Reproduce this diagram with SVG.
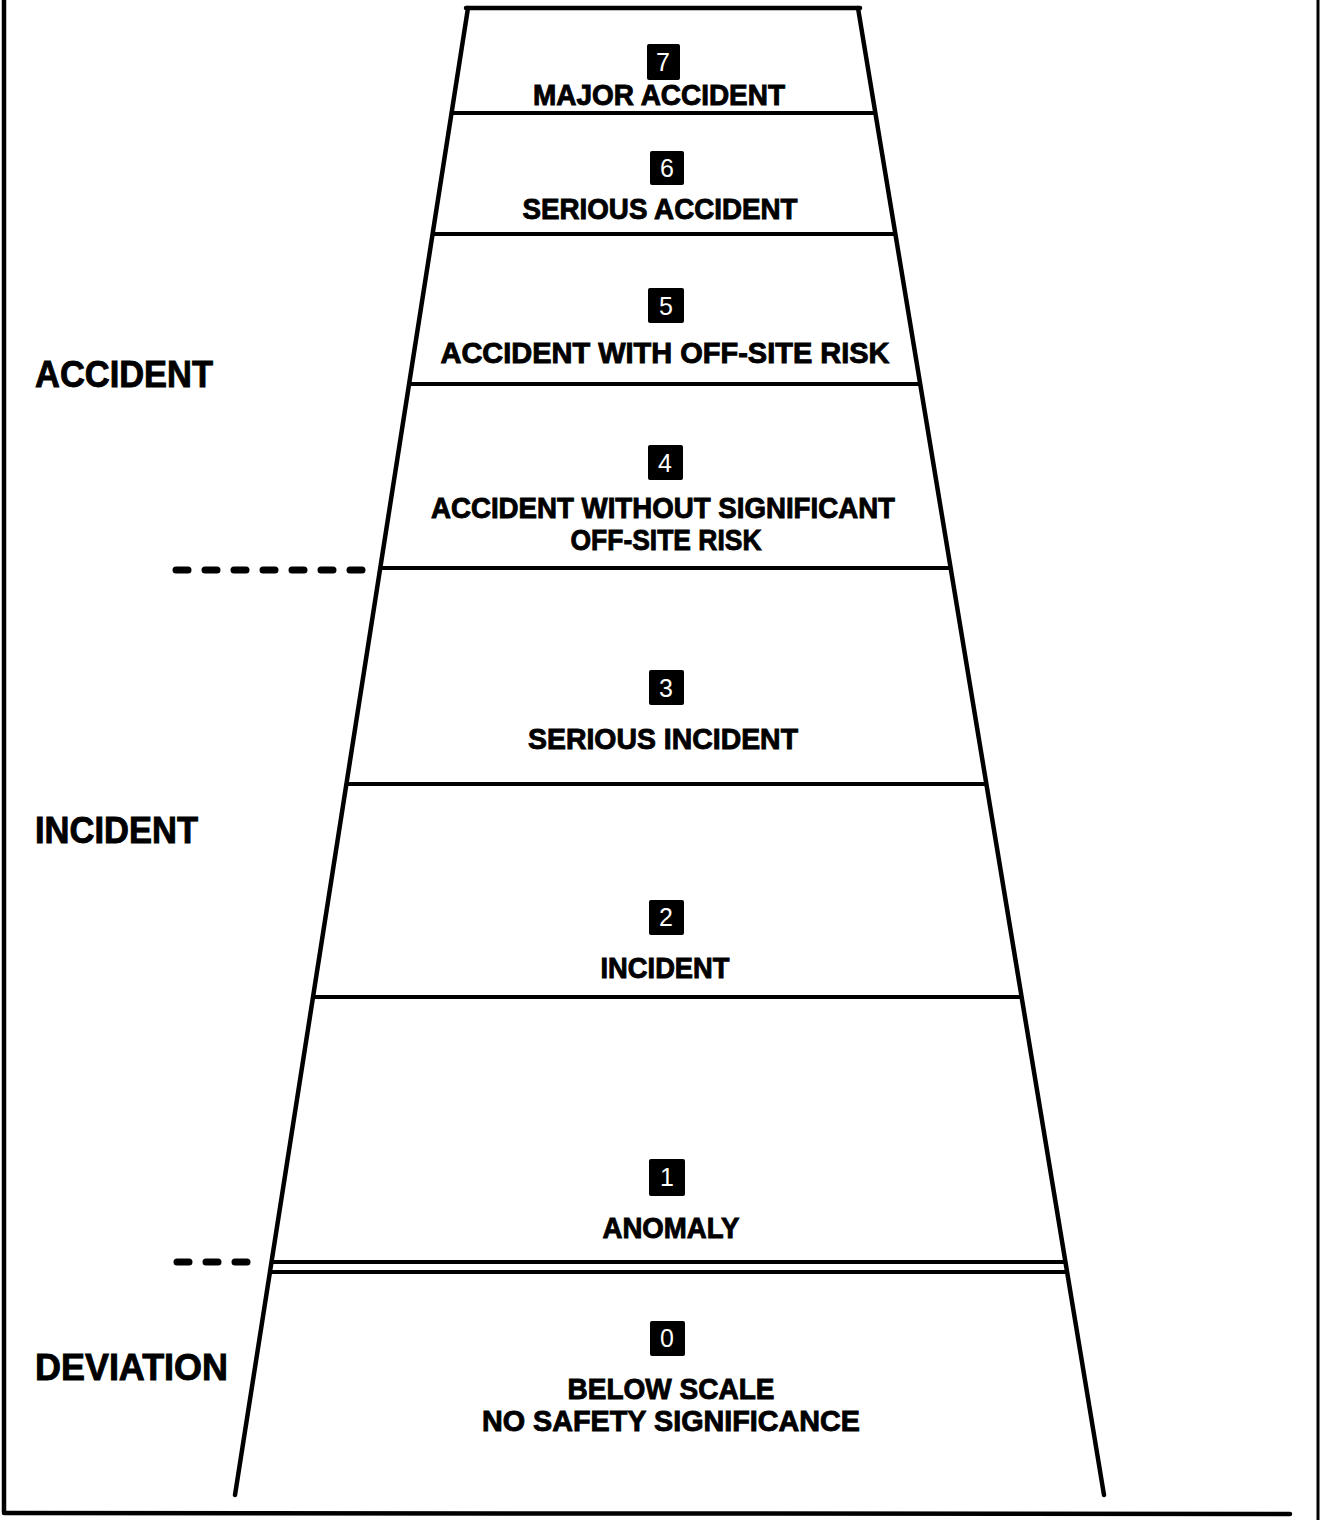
<svg xmlns="http://www.w3.org/2000/svg" width="1322" height="1520" viewBox="0 0 1322 1520">
<style>
.lbl{font-family:"Liberation Sans",Arial,sans-serif;font-weight:bold;font-size:29px;fill:#000;stroke:#000;stroke-width:0.9;text-anchor:middle}
.side{font-family:"Liberation Sans",Arial,sans-serif;font-weight:bold;font-size:37px;fill:#000;stroke:#000;stroke-width:0.9}
.num{font-family:"Liberation Sans",Arial,sans-serif;font-size:25px;fill:#fff;text-anchor:middle}
.badge{fill:#000}
.div{stroke:#000;stroke-width:4;fill:none}
.edge{stroke:#000;stroke-width:4.5;fill:none;stroke-linecap:round}
.dash{stroke:#000;stroke-width:7;stroke-linecap:round;fill:none}
</style>
<rect width="1322" height="1520" fill="#fff"/>
<g id="frame">
<line class="edge" x1="4" y1="0" x2="4" y2="1512"/>
<line class="edge" x1="4" y1="1513" x2="1290" y2="1514"/>
<line x1="1318" y1="0" x2="1318" y2="1520" stroke="#000" stroke-width="3"/>
</g>
<g id="connectors">
<line class="edge" x1="466" y1="8" x2="860" y2="8"/>
<line class="edge" x1="468" y1="8" x2="235" y2="1495"/>
<line class="edge" x1="858" y1="8" x2="1104" y2="1495"/>
<line class="div" x1="451" y1="113" x2="876" y2="113"/>
<line class="div" x1="432" y1="234" x2="896" y2="234"/>
<line class="div" x1="409" y1="384" x2="920" y2="384"/>
<line class="div" x1="380" y1="568" x2="951" y2="568"/>
<line class="div" x1="346" y1="784" x2="987" y2="784"/>
<line class="div" x1="313" y1="997" x2="1022" y2="997"/>
<line class="div" x1="271" y1="1262" x2="1066" y2="1262"/>
<line class="div" x1="270" y1="1272" x2="1067" y2="1272"/>
<line class="dash" x1="176" y1="570" x2="370" y2="570" stroke-dasharray="12 17"/>
<line class="dash" x1="177" y1="1262" x2="252" y2="1262" stroke-dasharray="12 17"/>
</g>
<g id="side-accident"><text class="side" x="35" y="387" textLength="178" lengthAdjust="spacingAndGlyphs">ACCIDENT</text></g>
<g id="side-incident"><text class="side" x="35" y="843" textLength="163" lengthAdjust="spacingAndGlyphs">INCIDENT</text></g>
<g id="side-deviation"><text class="side" x="35" y="1380" textLength="193" lengthAdjust="spacingAndGlyphs">DEVIATION</text></g>
<g id="level7">
<rect class="badge" x="647" y="44" width="33" height="36" rx="2"/>
<text class="num" x="663" y="71">7</text>
<text class="lbl" x="659" y="105" textLength="252" lengthAdjust="spacingAndGlyphs">MAJOR ACCIDENT</text>
</g>
<g id="level6">
<rect class="badge" x="650" y="151" width="34" height="34" rx="2"/>
<text class="num" x="667" y="177">6</text>
<text class="lbl" x="660" y="219" textLength="275" lengthAdjust="spacingAndGlyphs">SERIOUS ACCIDENT</text>
</g>
<g id="level5">
<rect class="badge" x="648" y="288" width="36" height="35" rx="2"/>
<text class="num" x="666" y="315">5</text>
<text class="lbl" x="665" y="363" textLength="449" lengthAdjust="spacingAndGlyphs">ACCIDENT WITH OFF-SITE RISK</text>
</g>
<g id="level4">
<rect class="badge" x="648" y="445" width="35" height="35" rx="2"/>
<text class="num" x="665" y="472">4</text>
<text class="lbl" x="663" y="518" textLength="464" lengthAdjust="spacingAndGlyphs">ACCIDENT WITHOUT SIGNIFICANT</text>
<text class="lbl" x="666" y="550" textLength="191" lengthAdjust="spacingAndGlyphs">OFF-SITE RISK</text>
</g>
<g id="level3">
<rect class="badge" x="649" y="670" width="35" height="35" rx="2"/>
<text class="num" x="666" y="697">3</text>
<text class="lbl" x="663" y="749" textLength="270" lengthAdjust="spacingAndGlyphs">SERIOUS INCIDENT</text>
</g>
<g id="level2">
<rect class="badge" x="649" y="900" width="35" height="35" rx="2"/>
<text class="num" x="666" y="926">2</text>
<text class="lbl" x="665" y="978" textLength="129" lengthAdjust="spacingAndGlyphs">INCIDENT</text>
</g>
<g id="level1">
<rect class="badge" x="649" y="1159" width="36" height="37" rx="2"/>
<text class="num" x="667" y="1186">1</text>
<text class="lbl" x="671" y="1238" textLength="137" lengthAdjust="spacingAndGlyphs">ANOMALY</text>
</g>
<g id="level0">
<rect class="badge" x="650" y="1321" width="35" height="35" rx="2"/>
<text class="num" x="667" y="1347">0</text>
<text class="lbl" x="671" y="1399" textLength="207" lengthAdjust="spacingAndGlyphs">BELOW SCALE</text>
<text class="lbl" x="671" y="1431" textLength="378" lengthAdjust="spacingAndGlyphs">NO SAFETY SIGNIFICANCE</text>
</g>
</svg>
